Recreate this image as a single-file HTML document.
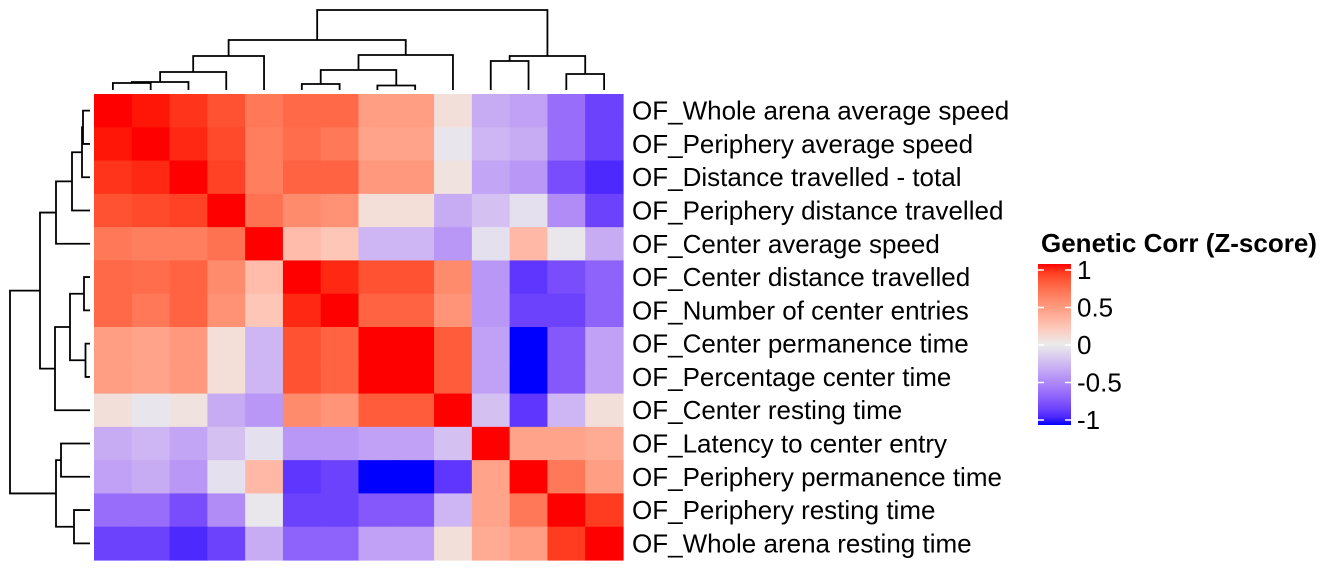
<!DOCTYPE html>
<html><head><meta charset="utf-8"><style>
html,body{margin:0;padding:0;background:#fff;}
svg{display:block;font-family:"Liberation Sans",Arial,sans-serif;}
</style></head><body>
<svg id="chart" width="1344" height="576" viewBox="0 0 1344 576" xmlns="http://www.w3.org/2000/svg">
<g id="cells"></g>
<g id="rowlabels"></g>
<g id="coldendro" stroke="#000" stroke-width="1.8" fill="none"></g>
<g id="rowdendro" stroke="#000" stroke-width="1.8" fill="none"></g>
<g id="legend">
<text x="1041" y="252" font-size="26" font-weight="bold">Genetic Corr (Z-score)</text>
<defs><linearGradient id="lg" x1="0" y1="0" x2="0" y2="1"></linearGradient></defs>
<rect x="1038" y="264" width="33" height="161" fill="url(#lg)"/>
<g id="legticks"></g>
</g>
</svg>
<script>
const labels=["OF_Whole arena average speed","OF_Periphery average speed","OF_Distance travelled - total","OF_Periphery distance travelled","OF_Center average speed","OF_Center distance travelled","OF_Number of center entries","OF_Center permanence time","OF_Percentage center time","OF_Center resting time","OF_Latency to center entry","OF_Periphery permanence time","OF_Periphery resting time","OF_Whole arena resting time"];
const corr=[
[1,.98,.92,.82,.65,.72,.72,.45,.45,.07,-.3,-.35,-.6,-.8],
[.98,1,.95,.85,.62,.7,.65,.42,.42,-.03,-.25,-.3,-.6,-.8],
[.92,.95,1,.88,.62,.75,.75,.48,.48,.05,-.33,-.4,-.75,-.9],
[.82,.85,.88,1,.68,.55,.52,.08,.08,-.3,-.2,-.05,-.45,-.8],
[.65,.62,.62,.68,1,.28,.22,-.25,-.25,-.4,-.05,.3,-.02,-.3],
[.72,.7,.75,.55,.28,1,.95,.82,.82,.55,-.4,-.85,-.75,-.65],
[.72,.65,.75,.52,.22,.95,1,.75,.75,.5,-.4,-.8,-.8,-.65],
[.45,.42,.48,.08,-.25,.82,.75,1,1,.78,-.35,-1,-.7,-.35],
[.45,.42,.48,.08,-.25,.82,.75,1,1,.78,-.35,-1,-.7,-.35],
[.07,-.03,.05,-.3,-.4,.55,.5,.78,.78,1,-.2,-.85,-.25,.07],
[-.3,-.25,-.33,-.2,-.05,-.4,-.4,-.35,-.35,-.2,1,.42,.42,.38],
[-.35,-.3,-.4,-.05,.3,-.85,-.8,-1,-1,-.85,.42,1,.65,.45],
[-.6,-.6,-.75,-.45,-.02,-.8,-.8,-.7,-.7,-.25,.42,.65,1,.9],
[-.8,-.8,-.9,-.8,-.3,-.65,-.65,-.35,-.35,.07,.38,.45,.9,1]];
const legendTicks=[1,0.5,0,-0.5,-1];
const legendTickLabels=["1","0.5","0","-0.5","-1"];
// dendrogram: [left, right, height]
const tree=[[[[[[0,1,7],2,8],3,18],4,34],[[[5,6,6],[7,8,4.5],20],9,35],50],[[10,11,29],[12,13,16],34],80];

const NS="http://www.w3.org/2000/svg";
const X0=94,Y0=94,W=529,H=466,n=labels.length,cw=W/n,ch=H/n;
const xs=i=>X0+cw*(i+0.5), ys=i=>Y0+ch*(i+0.5);
function toLin(c){c/=255;return c<=0.04045?c/12.92:Math.pow((c+0.055)/1.055,2.4);}
function toS(c){c=c<=0.0031308?12.92*c:1.055*Math.pow(c,1/2.4)-0.055;return Math.max(0,Math.min(255,Math.round(c*255)));}
function rgb2lab(r){const [R,G,B]=r.map(toLin);
 let x=(R*0.4124+G*0.3576+B*0.1805)/0.95047,y=R*0.2126+G*0.7152+B*0.0722,z=(R*0.0193+G*0.1192+B*0.9505)/1.08883;
 const f=t=>t>0.008856?Math.cbrt(t):7.787*t+16/116;
 const fx=f(x),fy=f(y),fz=f(z);return[116*fy-16,500*(fx-fy),200*(fy-fz)];}
function lab2rgb(l){const fy=(l[0]+16)/116,fx=fy+l[1]/500,fz=fy-l[2]/200;
 const fi=t=>t*t*t>0.008856?t*t*t:(t-16/116)/7.787;
 const x=fi(fx)*0.95047,y=fi(fy),z=fi(fz)*1.08883;
 const R=x*3.2406+y*-1.5372+z*-0.4986,G=x*-0.9689+y*1.8758+z*0.0415,B=x*0.0557+y*-0.2040+z*1.0570;
 return[toS(R),toS(G),toS(B)];}
const LR=rgb2lab([255,0,0]),LB=rgb2lab([0,0,255]),LM=rgb2lab([235,235,235]);
function col(v){
  const t=Math.min(1,Math.abs(v)),e=v>=0?LR:LB;
  const l=LM.map((m,k)=>m+(e[k]-m)*t);
  return `rgb(${lab2rgb(l).join(',')})`;
}
const cells=document.getElementById('cells');
for(let i=0;i<n;i++)for(let j=0;j<n;j++){
  const r=document.createElementNS(NS,'rect');
  
  
  r.setAttribute('x',X0+cw*j);r.setAttribute('y',Y0+ch*i);
  r.setAttribute('width',cw+0.6);r.setAttribute('height',ch+0.6);
  r.setAttribute('fill',col(corr[i][j]));cells.appendChild(r);
}
const rl=document.getElementById('rowlabels');
labels.forEach((l,i)=>{
  const t=document.createElementNS(NS,'text');
  
  
  t.setAttribute('x',632);t.setAttribute('y',ys(i)+9);t.setAttribute('font-size','26');
  t.textContent=l;rl.appendChild(t);
});
function draw(node,g,orient){
  if(typeof node==='number')return{p:node,h:0};
  const a=draw(node[0],g,orient),b=draw(node[1],g,orient),h=node[2];
  const pa=orient==='col'?xs(a.p):ys(a.p),pb=orient==='col'?xs(b.p):ys(b.p);
  const base=90;
  const ha=base-a.h,hb=base-b.h,hh=base-h;
  const d=document.createElementNS(NS,'path');
  
  
  d.setAttribute('d',orient==='col'?`M${pa},${ha}V${hh}H${pb}V${hb}`:`M${ha},${pa}H${hh}V${pb}H${hb}`);
  g.appendChild(d);
  return{p:(a.p+b.p)/2,h:h};
}
draw(tree,document.getElementById('coldendro'),'col');
draw(tree,document.getElementById('rowdendro'),'row');
const lg=document.getElementById('lg');
for(let k=0;k<=20;k++){const v=1-k/10;const s=document.createElementNS(NS,'stop');s.setAttribute('offset',k/20);s.setAttribute('stop-color',col(v));lg.appendChild(s);}
const lt=document.getElementById('legticks');
const ly=v=>345-v*75;
legendTicks.forEach((v,i)=>{
  const y=ly(v);
  [[1038,1044],[1065,1071]].forEach(([a,b])=>{const l=document.createElementNS(NS,'line');
    
    
    l.setAttribute('x1',a);l.setAttribute('x2',b);l.setAttribute('y1',y);l.setAttribute('y2',y);l.setAttribute('stroke','#fff');l.setAttribute('stroke-width','1.5');lt.appendChild(l);});
  const t=document.createElementNS(NS,'text');
  
  
  t.setAttribute('x',1077);t.setAttribute('y',y+9);t.setAttribute('font-size','26');t.textContent=legendTickLabels[i];lt.appendChild(t);
});
</script>
</body></html>
